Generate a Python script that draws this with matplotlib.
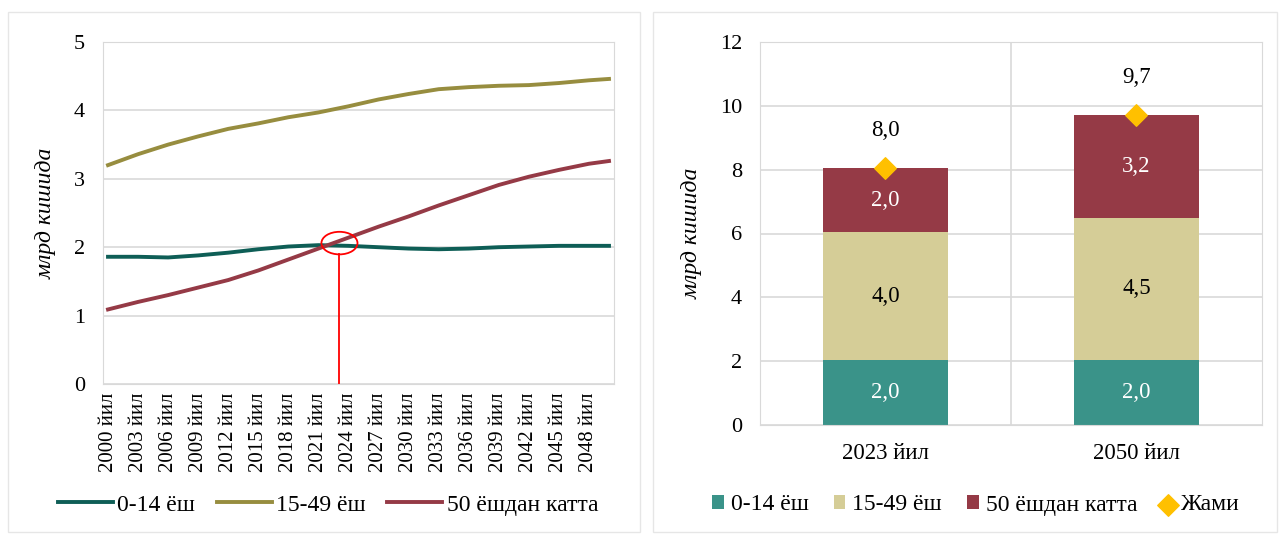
import matplotlib.pyplot as plt
from matplotlib.patches import Ellipse, Rectangle

plt.rcParams['font.family'] = ['Liberation Serif', 'DejaVu Serif']

# left chart: population by age group, bn people
years = [2000, 2003, 2006, 2009, 2012, 2015, 2018, 2021, 2024, 2027,
         2030, 2033, 2036, 2039, 2042, 2045, 2048, 2050]
kids = [1.86, 1.86, 1.85, 1.88, 1.92, 1.97, 2.01, 2.03, 2.02, 2.00,
        1.98, 1.97, 1.98, 2.00, 2.01, 2.02, 2.02, 2.02]
working = [3.20, 3.36, 3.50, 3.62, 3.73, 3.81, 3.90, 3.97, 4.06, 4.16,
           4.24, 4.31, 4.34, 4.36, 4.37, 4.40, 4.44, 4.46]
older = [1.09, 1.20, 1.30, 1.41, 1.52, 1.66, 1.82, 1.98, 2.14, 2.30,
         2.45, 2.61, 2.76, 2.91, 3.03, 3.13, 3.22, 3.26]
tick_years = list(range(2000, 2049, 3))
mark_year, mark_value = 2023.1, 2.06

# right chart: stacked bars
bar_cats = ['2023 йил', '2050 йил']
bar_kids = [2.04, 2.04]
bar_working = [4.0, 4.46]
bar_older = [2.0, 3.2]

labels = ['0-14 ёш', '15-49 ёш', '50 ёшдан катта']
grid_c = '#D9D9D9'

fig = plt.figure(figsize=(12.79, 5.36), dpi=100)

# panel frames
for x0, w in [(8, 632), (653, 624)]:
    fig.patches.append(Rectangle((x0 / 1279, 4 / 536), w / 1279, 520 / 536,
                                 transform=fig.transFigure, fill=False,
                                 edgecolor='#E6E6E6', linewidth=1))

# ---- left
ax1 = fig.add_axes([103 / 1279, 1 - 384 / 536, 511 / 1279, 342 / 536])
ax1.plot(years, kids, color='#0E5E56', lw=2.8, label=labels[0])
ax1.plot(years, working, color='#978D3F', lw=2.8, label=labels[1])
ax1.plot(years, older, color='#953A46', lw=2.8, label=labels[2])
ax1.set_xlim(1999.5, 2050.5)
ax1.set_ylim(0, 5)
ax1.set_yticks(range(6))
ax1.set_xticks(tick_years)
ax1.set_xticklabels([f'{y} йил' for y in tick_years], rotation=90)
ax1.tick_params(axis='x', length=0, labelsize=15, pad=6)
ax1.tick_params(axis='y', length=0, labelsize=16, pad=13)
ax1.grid(axis='y', color=grid_c, lw=1.2)
ax1.set_axisbelow(True)
for s in ax1.spines.values():
    s.set_color(grid_c)
ax1.set_ylabel('млрд кишида', fontsize=17, style='italic', labelpad=12)

ax1.add_patch(Ellipse((mark_year, mark_value), 3.6, 0.33, fill=False,
                      edgecolor='red', lw=1.3, zorder=5))
ax1.plot([mark_year, mark_year], [0, mark_value - 0.165], color='red', lw=1.3)

fig.legend(*ax1.get_legend_handles_labels(), loc='center', ncol=3,
           bbox_to_anchor=(328 / 1279, 1 - 505 / 536), frameon=False,
           fontsize=17, handlelength=2.33, handletextpad=0.2,
           columnspacing=0.9)

# ---- right
ax2 = fig.add_axes([760 / 1279, 1 - 425 / 536, 502 / 1279, 383 / 536])
x = range(len(bar_cats))
b1 = ax2.bar(x, bar_kids, width=0.5, color='#3A9389', label=labels[0])
b2 = ax2.bar(x, bar_working, width=0.5, bottom=bar_kids, color='#D5CD97',
             label=labels[1])
base = [a + b for a, b in zip(bar_kids, bar_working)]
b3 = ax2.bar(x, bar_older, width=0.5, bottom=base, color='#953A46',
             label=labels[2])
totals = [a + b for a, b in zip(base, bar_older)]
sc = ax2.scatter(x, totals, marker='D', s=120, color='#FFC000', zorder=5,
                 label='Жами')

for bars, vals, bottoms, c in [(b1, bar_kids, [0, 0], 'white'),
                               (b2, bar_working, bar_kids, 'black'),
                               (b3, bar_older, base, 'white')]:
    for i, (v, b) in enumerate(zip(vals, bottoms)):
        ax2.text(i, b + v / 2, f'{v:.1f}'.replace('.', ','), ha='center',
                 va='center', color=c, fontsize=16.5)
for i, t in enumerate(totals):
    ax2.annotate(f'{t:.1f}'.replace('.', ','), (i, t), xytext=(0, 27),
                 textcoords='offset points', ha='center', va='center',
                 fontsize=16.5)

ax2.set_xlim(-0.5, 1.5)
ax2.set_ylim(0, 12)
ax2.set_yticks(range(0, 13, 2))
ax2.set_xticks(list(x))
ax2.set_xticklabels(bar_cats)
ax2.set_xticks([0.5], minor=True)
ax2.tick_params(which='both', length=0)
ax2.tick_params(axis='y', labelsize=16, pad=13)
ax2.tick_params(axis='x', labelsize=16.5, pad=13)
ax2.grid(axis='y', color=grid_c, lw=1.2)
ax2.grid(axis='x', which='minor', color=grid_c, lw=1.2)
ax2.set_axisbelow(True)
for s in ax2.spines.values():
    s.set_color(grid_c)
ax2.set_ylabel('млрд кишида', fontsize=17, style='italic', labelpad=12)

fig.legend([b1, b2, b3, sc], labels + ['Жами'], loc='center', ncol=4,
           bbox_to_anchor=(976 / 1279, 1 - 505 / 536), frameon=False,
           fontsize=17, handlelength=0.5, handleheight=0.5,
           handletextpad=0.3, columnspacing=1.06)

fig.savefig('out.png', dpi=100)
